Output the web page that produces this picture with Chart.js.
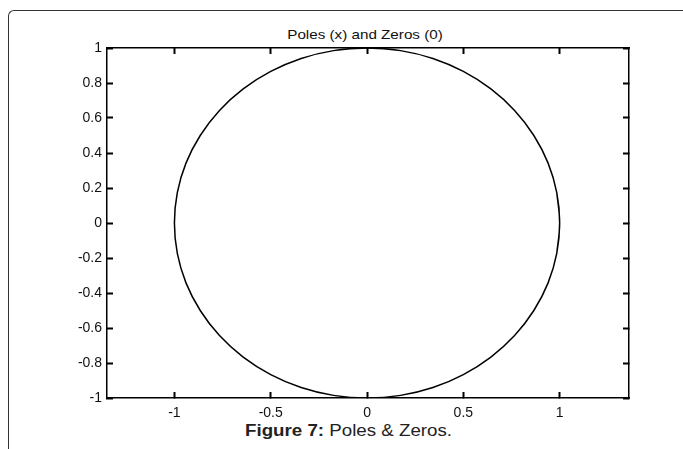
<!DOCTYPE html>
<html>
<head>
<meta charset="utf-8">
<script src="https://cdn.jsdelivr.net/npm/chart.js@4/dist/chart.umd.min.js"></script>
<style>
  body { margin: 0; background: #fff; font-family: 'Liberation Sans', Arial, sans-serif; }
  #wrap { position: relative; width: 683px; height: 449px; overflow: hidden; }
  #frame {
    position: absolute; left: 8px; top: 10px; width: 690px; height: 460px;
    border-top: 1.5px solid #333; border-left: 1.5px solid #333;
    border-top-left-radius: 6px;
  }
  #title {
    position: absolute; left: 0; top: 28px; width: 730px; text-align: center;
    font-size: 13px; line-height: 13px; color: #111;
    transform: scaleX(1.17); transform-origin: 365px 0;
  }
  #caption {
    position: absolute; left: 245px; top: 423px; white-space: nowrap;
    font-size: 16px; line-height: 16px; color: #222;
    transform: scaleX(1.17); transform-origin: 0 0;
  }
  canvas { position: absolute; left: 0; top: 0; }
</style>
</head>
<body>
<div id="wrap">
  <div id="frame"></div>
  <div id="title">Poles (x) and Zeros (0)</div>
  <div id="caption"><b>Figure 7:</b> Poles &amp; Zeros.</div>
  <canvas id="pzChart" width="683" height="449"></canvas>
</div>
<script>
// unit circle, read every 10 degrees (one extra point at each end so the join is smooth)
const circleX = [0.985, 1, 0.985, 0.94, 0.866, 0.766, 0.643, 0.5, 0.342, 0.174, 0,
  -0.174, -0.342, -0.5, -0.643, -0.766, -0.866, -0.94, -0.985, -1,
  -0.985, -0.94, -0.866, -0.766, -0.643, -0.5, -0.342, -0.174, 0,
  0.174, 0.342, 0.5, 0.643, 0.766, 0.866, 0.94, 0.985, 1, 0.985];
const circleY = [-0.174, 0, 0.174, 0.342, 0.5, 0.643, 0.766, 0.866, 0.94, 0.985, 1,
  0.985, 0.94, 0.866, 0.766, 0.643, 0.5, 0.342, 0.174, 0,
  -0.174, -0.342, -0.5, -0.643, -0.766, -0.866, -0.94, -0.985, -1,
  -0.985, -0.94, -0.866, -0.766, -0.643, -0.5, -0.342, -0.174, 0, 0.174];

const xRange = [-1.35, 1.36];
const yRange = [-1, 1];
const xStep = 0.5;
const yStep = 0.2;

function tickText(v) {
  return String(Number(v.toFixed(2)));
}

function makeScale(axis, position, range, step, size, showLabels, pad) {
  return {
    type: 'linear',
    axis: axis,
    position: position,
    min: range[0],
    max: range[1],
    border: { display: true, color: '#000', width: 1.5 },
    grid: {
      drawOnChartArea: false,
      drawTicks: true,
      tickLength: -6,
      tickWidth: 2,
      tickColor: '#000',
    },
    ticks: {
      display: showLabels,
      stepSize: step,
      includeBounds: false,
      padding: pad,
      color: '#111',
      font: { family: "'Liberation Sans', Arial, sans-serif", size: 14 },
      callback: tickText,
    },
    afterFit: (scale) => {
      if (axis === 'x') scale.height = size;
      else scale.width = size;
    },
  };
}

function createPoleZeroChart() {
  const ctx = document.getElementById('pzChart').getContext('2d');
  const points = circleX.map((x, i) => ({ x: x, y: circleY[i] }));

  new Chart(ctx, {
    type: 'scatter',
    data: {
      datasets: [
        {
          data: points,
          showLine: true,
          borderColor: '#000',
          borderWidth: 1.5,
          pointRadius: 0,
          tension: 0.4,
          xAxisID: 'x',
          yAxisID: 'y',
        },
      ],
    },
    options: {
      responsive: false,
      animation: false,
      layout: { padding: 0 },
      plugins: { legend: { display: false }, tooltip: { enabled: false } },
      scales: {
        x: makeScale('x', 'bottom', xRange, xStep, 51, true, 13),
        x2: makeScale('x', 'top', xRange, xStep, 48, false, 0),
        y: makeScale('y', 'left', yRange, yStep, 107, true, 11),
        y2: makeScale('y', 'right', yRange, yStep, 54, false, 0),
      },
    },
  });
}

createPoleZeroChart();
</script>
</body>
</html>
